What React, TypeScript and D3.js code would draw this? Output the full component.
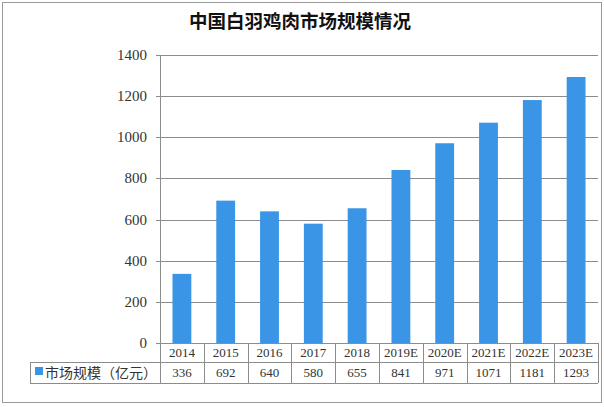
import React from "react";
import * as d3 from "d3";

const categories = ["2014", "2015", "2016", "2017", "2018", "2019E", "2020E", "2021E", "2022E", "2023E"];
const values = [336, 692, 640, 580, 655, 841, 971, 1071, 1181, 1293];
const yTicks = [0, 200, 400, 600, 800, 1000, 1200, 1400];
const title = "中国白羽鸡肉市场规模情况";
const seriesName = "市场规模（亿元）";

const W = 604;
const H = 407;
const left = 160;
const right = 598;
const top = 55;
const bottom = 343;
const row1 = 362;
const row2 = 383;
const tableLeft = 30;
const barColor = "#3a95e6";
const gridColor = "#8c8c8c";
const serif = "'Liberation Serif', 'DejaVu Serif', serif";
const cjk = "'Noto Sans CJK SC', sans-serif";

export default function App() {
  const x = d3.scaleBand<string>().domain(categories).range([left, right]).padding(0);
  const y = d3.scaleLinear().domain([0, 1400]).range([bottom, top]);
  const bw = x.bandwidth() * 0.43;

  return (
    <svg width={W} height={H} style={{ position: "absolute", left: 0, top: 0, background: "#fff" }}>
      <rect x={2.5} y={2.5} width={W - 5} height={H - 7} fill="#fff" stroke="#9a9a9a" />
      <text x={300} y={28} textAnchor="middle" fontFamily={cjk} fontWeight="bold" fontSize={18.5} fill="#111">
        {title}
      </text>
      {yTicks.map((t) => (
        <g key={t}>
          {t > 0 && (
            <line x1={left - 4} x2={right} y1={Math.round(y(t)) + 0.5} y2={Math.round(y(t)) + 0.5} stroke={gridColor} />
          )}
          <text x={147} y={y(t) + 5} textAnchor="end" fontFamily={serif} fontSize={15} fill="#333">
            {t}
          </text>
        </g>
      ))}
      <line x1={left + 0.5} x2={left + 0.5} y1={top} y2={row2} stroke={gridColor} />
      {categories.map((c, i) => (
        <rect
          key={c}
          x={(x(c) as number) + (x.bandwidth() - bw) / 2}
          y={y(values[i])}
          width={bw}
          height={bottom - y(values[i])}
          fill={barColor}
        />
      ))}
      {/* table */}
      <line x1={left - 4} x2={right} y1={bottom + 0.5} y2={bottom + 0.5} stroke={gridColor} />
      <line x1={tableLeft} x2={right} y1={row1 + 0.5} y2={row1 + 0.5} stroke={gridColor} />
      <line x1={tableLeft} x2={right} y1={row2 + 0.5} y2={row2 + 0.5} stroke={gridColor} />
      <line x1={tableLeft + 0.5} x2={tableLeft + 0.5} y1={row1} y2={row2} stroke={gridColor} />
      {categories.map((c) => (
        <line
          key={"v" + c}
          x1={Math.round((x(c) as number) + x.bandwidth()) + 0.5}
          x2={Math.round((x(c) as number) + x.bandwidth()) + 0.5}
          y1={bottom}
          y2={row2}
          stroke={gridColor}
        />
      ))}
      {categories.map((c, i) => (
        <g key={"t" + c}>
          <text x={(x(c) as number) + x.bandwidth() / 2} y={bottom + 14} textAnchor="middle" fontFamily={serif} fontSize={13} fill="#333">
            {c}
          </text>
          <text x={(x(c) as number) + x.bandwidth() / 2} y={row1 + 15} textAnchor="middle" fontFamily={serif} fontSize={13} fill="#333">
            {values[i]}
          </text>
        </g>
      ))}
      <rect x={35} y={367} width={8} height={8} fill={barColor} />
      <text x={45} y={row1 + 16} fontFamily={cjk} fontSize={14} fill="#333">
        {seriesName}
      </text>
    </svg>
  );
}
